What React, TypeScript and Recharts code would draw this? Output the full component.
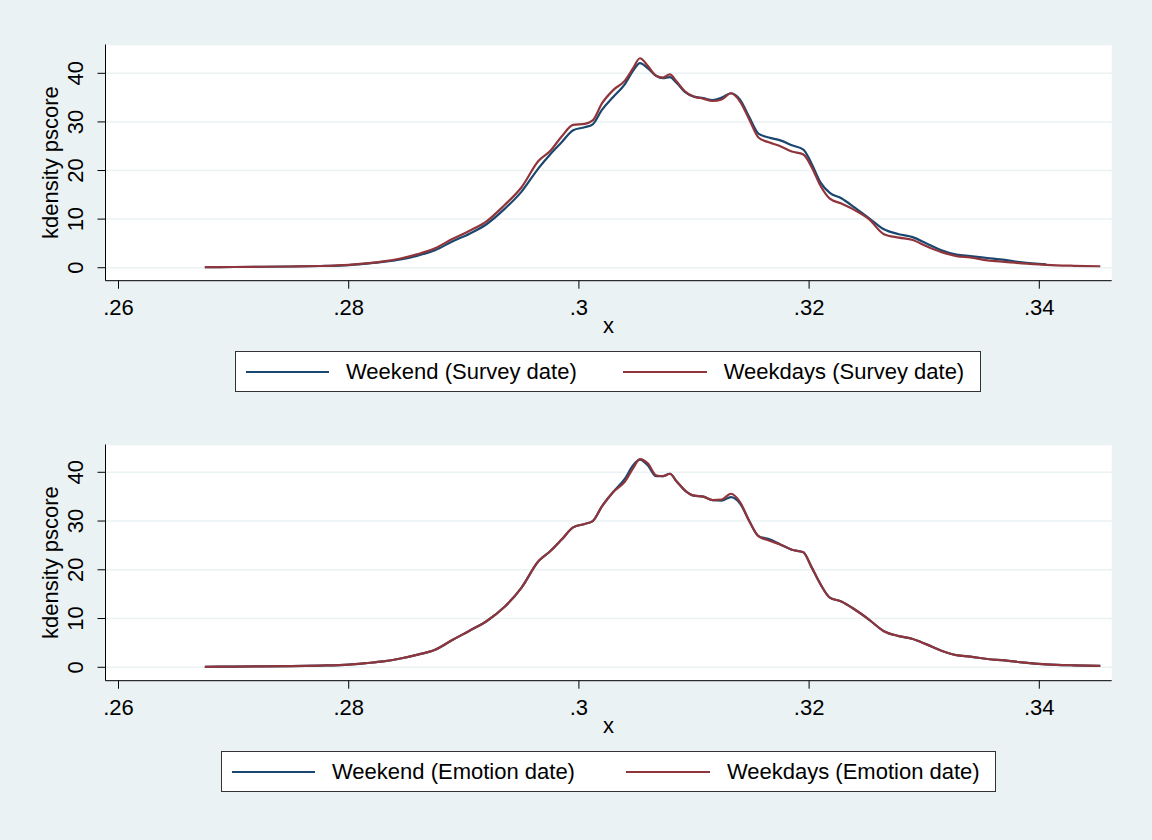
import { LineChart, Line, XAxis, YAxis, CartesianGrid } from 'recharts';

// kdensity evaluation points (shared by every series)
const xs = [
  0.2675, 0.27, 0.2725, 0.275, 0.2775, 0.28, 0.2815, 0.283, 0.2845, 0.286,
  0.2875, 0.289, 0.2905, 0.292, 0.2935, 0.295, 0.2965, 0.2975, 0.2985, 0.2995,
  0.3005, 0.3012, 0.302, 0.303, 0.304, 0.3047, 0.3053, 0.306, 0.3067, 0.3073,
  0.3079, 0.3085, 0.3092, 0.31, 0.3108, 0.3116, 0.3124, 0.3132, 0.314, 0.3148,
  0.3156, 0.3165, 0.3175, 0.3185, 0.3195, 0.3202, 0.321, 0.3218, 0.3228, 0.324,
  0.3252, 0.3265, 0.3278, 0.329, 0.3302, 0.3315, 0.3328, 0.334, 0.3355, 0.337,
  0.3385, 0.3406, 0.3415, 0.343, 0.3453,
];

const surveyWeekend = [
  0.1, 0.15, 0.2, 0.25, 0.35, 0.55, 0.85, 1.2, 1.7, 2.5,
  3.6, 5.4, 7.0, 9.0, 12.0, 15.6, 20.5, 23.3, 25.8, 28.3,
  28.9, 29.5, 32.5, 35.2, 37.8, 40.5, 42.1, 41.0, 39.5, 39.0,
  39.2, 38.0, 36.2, 35.2, 34.9, 34.5, 35.0, 35.9, 34.6, 31.0,
  27.6, 26.8, 26.2, 25.2, 24.3, 21.5, 17.5, 15.4, 14.3, 12.3,
  10.2, 7.9, 6.9, 6.3, 5.0, 3.6, 2.7, 2.4, 2.0, 1.6,
  1.1, 0.7, null, null, null,
];

const surveyWeekdays = [
  0.1, 0.15, 0.2, 0.25, 0.35, 0.6, 0.9, 1.3, 1.9, 2.8,
  4.0, 5.9, 7.6, 9.6, 12.8, 16.5, 22.0, 24.0, 27.0, 29.4,
  29.6, 30.3, 33.8, 36.6, 38.5, 41.0, 43.1, 41.5, 39.5, 39.1,
  39.8, 38.3, 36.3, 35.2, 34.8, 34.3, 34.6, 35.9, 34.2, 30.5,
  26.8, 25.8, 25.0, 23.9, 23.3, 20.8, 16.8, 14.2, 13.2, 11.8,
  10.0, 6.9, 6.2, 5.7, 4.4, 3.2, 2.4, 2.1, 1.5, 1.2,
  0.9, 0.6, 0.5, 0.4, 0.3,
];

const emotionWeekend = [
  0.1, 0.15, 0.2, 0.25, 0.35, 0.55, 0.85, 1.2, 1.8, 2.6,
  3.6, 5.6, 7.5, 9.5, 12.3, 16.3, 21.8, 23.8, 26.2, 28.7,
  29.4, 30.0, 33.0, 36.0, 38.7, 41.4, 42.6, 41.4, 39.2, 39.2,
  39.7, 38.1, 36.3, 35.2, 35.0, 34.3, 34.2, 34.9, 33.6, 30.0,
  26.9, 26.3, 25.2, 24.1, 23.6, 20.6, 17.0, 14.3, 13.5, 11.8,
  9.8, 7.4, 6.4, 5.8, 4.7, 3.4, 2.5, 2.2, 1.7, 1.4,
  1.0, 0.6, 0.5, 0.4, 0.3,
];

const emotionWeekdays = [
  0.1, 0.15, 0.2, 0.25, 0.35, 0.55, 0.85, 1.2, 1.8, 2.6,
  3.6, 5.6, 7.5, 9.5, 12.3, 16.3, 21.8, 23.8, 26.2, 28.7,
  29.4, 30.0, 33.0, 36.0, 38.1, 40.8, 42.7, 41.8, 39.4, 39.2,
  39.7, 38.1, 36.3, 35.2, 35.0, 34.3, 34.4, 35.6, 33.9, 30.0,
  26.9, 26.0, 25.2, 24.1, 23.6, 20.6, 17.0, 14.3, 13.5, 11.8,
  9.8, 7.4, 6.4, 5.8, 4.7, 3.4, 2.5, 2.2, 1.7, 1.4,
  1.0, 0.6, 0.5, 0.4, 0.3,
];

const xTicks = [0.26, 0.28, 0.3, 0.32, 0.34];
const xTickLabels = ['.26', '.28', '.3', '.32', '.34'];
const yTicks = [0, 10, 20, 30, 40];

const NAVY = '#1A476F';
const MAROON = '#90353B';
const BG = '#EAF2F3';
const FONT = '"Liberation Sans", Arial, sans-serif';

const XTick = ({ x, payload }: any) => {
  const i = xTicks.indexOf(payload.value);
  return (
    <text x={x} y={314.5} textAnchor="middle" fontSize={22} fontFamily={FONT} fill="#000">
      {i >= 0 ? xTickLabels[i] : payload.value}
    </text>
  );
};

const YTick = ({ y, payload }: any) => (
  <text
    x={83.5}
    y={y}
    transform={`rotate(-90 83.5 ${y})`}
    textAnchor="middle"
    fontSize={22}
    fontFamily={FONT}
    fill="#000"
  >
    {payload.value}
  </text>
);

const XTitle = () => (
  <text x={608.5} y={333} textAnchor="middle" fontSize={22} fontFamily={FONT} fill="#000">
    x
  </text>
);

const YTitle = () => (
  <text
    x={58.5}
    y={162.6}
    transform="rotate(-90 58.5 162.6)"
    textAnchor="middle"
    fontSize={22}
    fontFamily={FONT}
    fill="#000"
  >
    kdensity pscore
  </text>
);

interface PanelProps {
  top: number;
  weekend: (number | null)[];
  weekdays: (number | null)[];
  yDomain: [number, number];
  names: [string, string];
  legendLeft: number;
  legendWidth: number;
  legendGap: number;
}

function Panel({ top, weekend, weekdays, yDomain, names, legendLeft, legendWidth, legendGap }: PanelProps) {
  const data = xs.map((x, i) => ({ x, weekend: weekend[i], weekdays: weekdays[i] }));
  return (
    <>
      <div style={{ position: 'absolute', left: 0, top }}>
        <LineChart width={1152} height={400} data={data} margin={{ top: 44.5, right: 40.3, bottom: 67, left: 0 }}>
          <CartesianGrid vertical={false} stroke={BG} strokeWidth={1.5} fill="#fff" fillOpacity={1} />
          <XAxis
            dataKey="x"
            type="number"
            domain={[0.25887, 0.34629]}
            ticks={xTicks}
            tick={<XTick />}
            tickSize={8}
            height={52.3}
            axisLine={{ stroke: '#000' }}
            tickLine={{ stroke: '#000' }}
            allowDataOverflow
            label={<XTitle />}
          />
          <YAxis
            type="number"
            domain={yDomain}
            ticks={yTicks}
            tick={<YTick />}
            tickSize={8}
            width={105.5}
            axisLine={{ stroke: '#000' }}
            tickLine={{ stroke: '#000' }}
            allowDataOverflow
            label={<YTitle />}
          />
          <Line type="monotone" dataKey="weekend" name={names[0]} stroke={NAVY} strokeWidth={2.2} dot={false} isAnimationActive={false} />
          <Line type="monotone" dataKey="weekdays" name={names[1]} stroke={MAROON} strokeWidth={2.2} dot={false} isAnimationActive={false} />
        </LineChart>
      </div>
      <div
        style={{
          position: 'absolute',
          left: legendLeft,
          top: top + 351,
          width: legendWidth,
          height: 41,
          boxSizing: 'border-box',
          border: '1px solid #333',
          background: '#fff',
          display: 'flex',
          alignItems: 'center',
          paddingLeft: 10,
          fontFamily: FONT,
          fontSize: 22,
          color: '#000',
          whiteSpace: 'nowrap',
        }}
      >
        <span style={{ display: 'inline-block', width: 83, height: 2, background: NAVY }} />
        <span style={{ marginLeft: 17 }}>{names[0]}</span>
        <span style={{ display: 'inline-block', width: 84, height: 2, background: MAROON, marginLeft: legendGap }} />
        <span style={{ marginLeft: 17 }}>{names[1]}</span>
      </div>
    </>
  );
}

export default function App() {
  return (
    <div style={{ position: 'absolute', left: 0, top: 0, width: 1152, height: 840, background: BG, overflow: 'hidden' }}>
      <Panel
        top={0}
        weekend={surveyWeekend}
        weekdays={surveyWeekdays}
        yDomain={[-2.67, 45.93]}
        names={['Weekend (Survey date)', 'Weekdays (Survey date)']}
        legendLeft={235}
        legendWidth={746}
        legendGap={46}
      />
      <Panel
        top={400}
        weekend={emotionWeekend}
        weekdays={emotionWeekdays}
        yDomain={[-2.75, 45.7]}
        names={['Weekend (Emotion date)', 'Weekdays (Emotion date)']}
        legendLeft={221}
        legendWidth={775}
        legendGap={51}
      />
    </div>
  );
}
